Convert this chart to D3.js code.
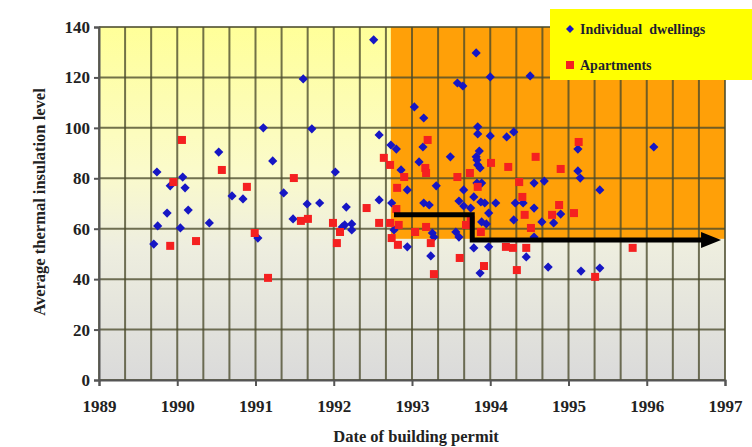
<!DOCTYPE html>
<html>
<head>
<meta charset="utf-8">
<script src="https://cdn.jsdelivr.net/npm/d3@7/dist/d3.min.js"></script>
<style>
  html, body { margin: 0; padding: 0; background: #ffffff; }
  svg { display: block; }
  text { font-family: "Liberation Serif", "Times New Roman", serif; font-weight: bold; }
</style>
</head>
<body>
<svg id="chart" width="752" height="447"></svg>
<script>
// ---------- DATA ----------
const dwellings = [
  [1989.70,53.9],[1989.74,82.5],[1989.75,61.1],[1989.87,66.2],[1989.91,77.0],[1990.04,60.3],
  [1990.07,80.5],[1990.10,76.2],[1990.14,67.4],[1990.41,62.3],[1990.53,90.4],[1990.70,73.0],
  [1990.84,71.8],[1991.03,56.3],[1991.10,100.0],[1991.22,86.9],[1991.36,74.2],[1991.48,63.9],
  [1991.61,119.4],[1991.66,69.8],[1991.72,99.6],[1991.82,70.2],[1992.02,82.5],[1992.14,61.5],
  [1992.16,68.6],[1992.23,61.9],[1992.23,59.5],[1992.11,60.7],[1992.51,134.9],[1992.58,97.2],
  [1992.58,71.4],[1992.73,93.2],[1992.80,91.6],[1992.74,70.2],[1992.77,59.5],[1992.86,83.3],
  [1992.94,75.4],[1992.94,52.8],[1993.03,108.3],[1993.09,86.5],[1993.14,92.4],[1993.15,103.9],
  [1993.15,70.2],[1993.22,69.4],[1993.24,49.2],[1993.26,58.3],[1993.28,56.7],[1993.31,77.0],
  [1993.49,88.5],[1993.56,58.7],[1993.58,117.8],[1993.60,71.0],[1993.60,56.7],[1993.65,116.6],
  [1993.66,75.4],[1993.66,69.0],[1993.75,68.2],[1993.79,72.6],[1993.79,52.4],[1993.82,129.7],
  [1993.82,88.5],[1993.83,87.3],[1993.83,78.1],[1993.84,100.4],[1993.84,97.6],[1993.84,85.3],
  [1993.86,90.8],[1993.87,84.1],[1993.87,42.4],[1993.88,70.6],[1993.89,78.1],[1993.93,70.2],
  [1993.95,61.9],[1993.89,62.7],[1993.98,66.2],[1993.98,52.8],[1994.00,120.2],[1994.00,96.8],
  [1994.07,70.2],[1994.21,96.4],[1994.30,98.4],[1994.30,63.5],[1994.32,70.2],[1994.42,70.2],
  [1994.46,48.8],[1994.51,120.6],[1994.56,78.1],[1994.56,68.2],[1994.56,56.7],[1994.66,62.7],
  [1994.69,78.9],[1994.74,44.8],[1994.81,62.3],[1994.90,65.8],[1995.12,91.6],[1995.12,82.9],
  [1995.15,80.1],[1995.16,43.2],[1995.40,75.4],[1995.40,44.4],[1996.09,92.4]
];
const apartments = [
  [1989.91,53.2],[1989.95,78.5],[1990.06,95.2],[1990.24,55.1],[1990.57,83.3],[1990.89,76.6],
  [1990.99,58.3],[1991.16,40.5],[1991.49,80.1],[1991.58,63.1],[1991.67,63.9],[1991.99,62.3],
  [1992.08,58.7],[1992.04,54.3],[1992.42,68.2],[1992.58,62.3],[1992.64,88.1],[1992.72,85.3],
  [1992.72,62.3],[1992.74,56.3],[1992.81,76.2],[1992.80,67.8],[1992.83,61.5],[1992.82,53.6],
  [1992.90,80.5],[1993.04,58.7],[1993.17,84.1],[1993.18,82.1],[1993.18,60.7],[1993.20,95.2],
  [1993.24,54.3],[1993.28,42.0],[1993.58,80.5],[1993.61,48.4],[1993.69,61.5],[1993.74,82.1],
  [1993.75,63.5],[1993.88,58.7],[1993.92,45.2],[1994.01,86.1],[1994.20,52.8],[1994.23,84.5],
  [1994.29,52.4],[1994.34,43.6],[1994.37,78.5],[1994.41,72.6],[1994.44,65.5],[1994.46,52.4],
  [1994.52,60.3],[1994.58,88.5],[1994.79,65.5],[1994.88,69.4],[1994.90,83.7],[1995.07,66.2],
  [1995.13,94.4],[1995.34,40.9],[1995.82,52.4],[1993.84,76.6]
];
const xTickYears = [1989,1990,1991,1992,1993,1994,1995,1996,1997];
const yTickValues = [0,20,40,60,80,100,120,140];
const seriesNames = ["Individual  dwellings","Apartments"];
const xTitle = "Date of building permit";
const yTitle = "Average thermal insulation level";
// highlighted period (orange zone)
const zoneYears = [1992.73, 1997];
const zoneValues = [56, 140];
// trend arrow (year, value)
const arrowPath = [[1992.77,65.5],[1993.77,65.5],[1993.77,55.5],[1996.80,55.5]];
const arrowTip = [1996.95, 55.5];

// ---------- LAYOUT ----------
const svg = d3.select("#chart");
const x = d3.scaleLinear().domain([1989, 1997]).range([99, 725]);
const y = d3.scaleLinear().domain([0, 140]).range([380, 27]);
const serif = "'Liberation Serif', 'Times New Roman', serif";

const defs = svg.append("defs");
const grad = defs.append("linearGradient").attr("id","bg").attr("x1",0).attr("y1",0).attr("x2",0).attr("y2",1);
[["0%","#ffff99"],["40%","#fbfbca"],["62%","#eeeedf"],["100%","#dadada"]]
  .forEach(([o,c]) => grad.append("stop").attr("offset",o).attr("stop-color",c));

// plot background
svg.append("rect")
  .attr("x", x(1989)).attr("y", y(140))
  .attr("width", x(1997) - x(1989)).attr("height", y(0) - y(140))
  .attr("fill", "url(#bg)");

// orange zone
svg.append("rect")
  .attr("x", x(zoneYears[0])).attr("y", y(zoneValues[1]))
  .attr("width", x(zoneYears[1]) - x(zoneYears[0]))
  .attr("height", y(zoneValues[0]) - y(zoneValues[1]))
  .attr("fill", "#ffa008");

// gridlines
const gridG = svg.append("g").attr("stroke", "#4a4a2c").attr("stroke-opacity", 0.78).attr("stroke-width", 2);
const vGrid = d3.range(0, 25).map(i => 1989 + i / 3);
gridG.selectAll("line.v").data(vGrid).join("line")
  .attr("x1", d => x(d)).attr("x2", d => x(d))
  .attr("y1", y(140)).attr("y2", y(0));
gridG.selectAll("line.h").data(yTickValues).join("line")
  .attr("x1", x(1989)).attr("x2", x(1997))
  .attr("y1", d => y(d)).attr("y2", d => y(d));

// axes
const yAxis = d3.axisLeft(y).tickValues(yTickValues).tickSize(5).tickPadding(4).tickFormat(d3.format("d"));
const yG = svg.append("g").attr("transform", `translate(${x(1989)},0)`).call(yAxis);
const xAxis = d3.axisBottom(x).tickValues(xTickYears).tickSize(6).tickPadding(14).tickFormat(d3.format("d"));
const xG = svg.append("g").attr("transform", `translate(0,${y(0)})`).call(xAxis);
[yG, xG].forEach(g => {
  g.select(".domain").attr("stroke", "#555").attr("stroke-width", 2);
  g.selectAll(".tick line").attr("stroke", "#555").attr("stroke-width", 2);
  g.selectAll(".tick text").attr("fill", "#222").attr("font-size", 17)
    .attr("font-family", serif).attr("font-weight", "bold");
});

// points: dwellings (blue diamonds)
const diamondPath = "M0,-4.6L4.6,0L0,4.6L-4.6,0Z";
svg.append("g").selectAll("path").data(dwellings).join("path")
  .attr("d", diamondPath)
  .attr("transform", d => `translate(${x(d[0])},${y(d[1])})`)
  .attr("fill", "#1616c4");

// points: apartments (red squares)
const sq = 8;
svg.append("g").selectAll("rect").data(apartments).join("rect")
  .attr("x", d => x(d[0]) - sq / 2).attr("y", d => y(d[1]) - sq / 2)
  .attr("width", sq).attr("height", sq)
  .attr("fill", "#f52020");

// arrow
svg.append("path")
  .attr("d", d3.line().x(d => x(d[0])).y(d => y(d[1]))(arrowPath))
  .attr("fill", "none").attr("stroke", "#000").attr("stroke-width", 5)
  .attr("stroke-linejoin", "miter");
const tx = x(arrowTip[0]), ty = y(arrowTip[1]);
svg.append("path")
  .attr("d", `M${tx},${ty} L${tx - 20},${ty - 8} L${tx - 20},${ty + 8} Z`)
  .attr("fill", "#000");

// legend
const leg = svg.append("g");
leg.append("rect").attr("x", 550).attr("y", 9).attr("width", 210).attr("height", 71).attr("fill", "#ffff00");
leg.append("path").attr("d", "M0,-4L4,0L0,4L-4,0Z")
  .attr("transform", "translate(570,29)").attr("fill", "#1616c4");
leg.append("rect").attr("x", 566).attr("y", 61).attr("width", 8).attr("height", 8).attr("fill", "#f52020");
leg.append("text").attr("x", 580).attr("y", 34).attr("font-size", 14).attr("fill", "#1e1e30")
  .attr("xml:space", "preserve").style("white-space", "pre").text(seriesNames[0]);
leg.append("text").attr("x", 580).attr("y", 70).attr("font-size", 14).attr("fill", "#1e1e30")
  .text(seriesNames[1]);

// axis titles
svg.append("text").attr("x", 416).attr("y", 442).attr("text-anchor", "middle")
  .attr("font-size", 16.5).attr("fill", "#222").text(xTitle);
svg.append("text").attr("transform", "translate(45,202) rotate(-90)").attr("text-anchor", "middle")
  .attr("font-size", 16.5).attr("fill", "#222").text(yTitle);
</script>
</body>
</html>
